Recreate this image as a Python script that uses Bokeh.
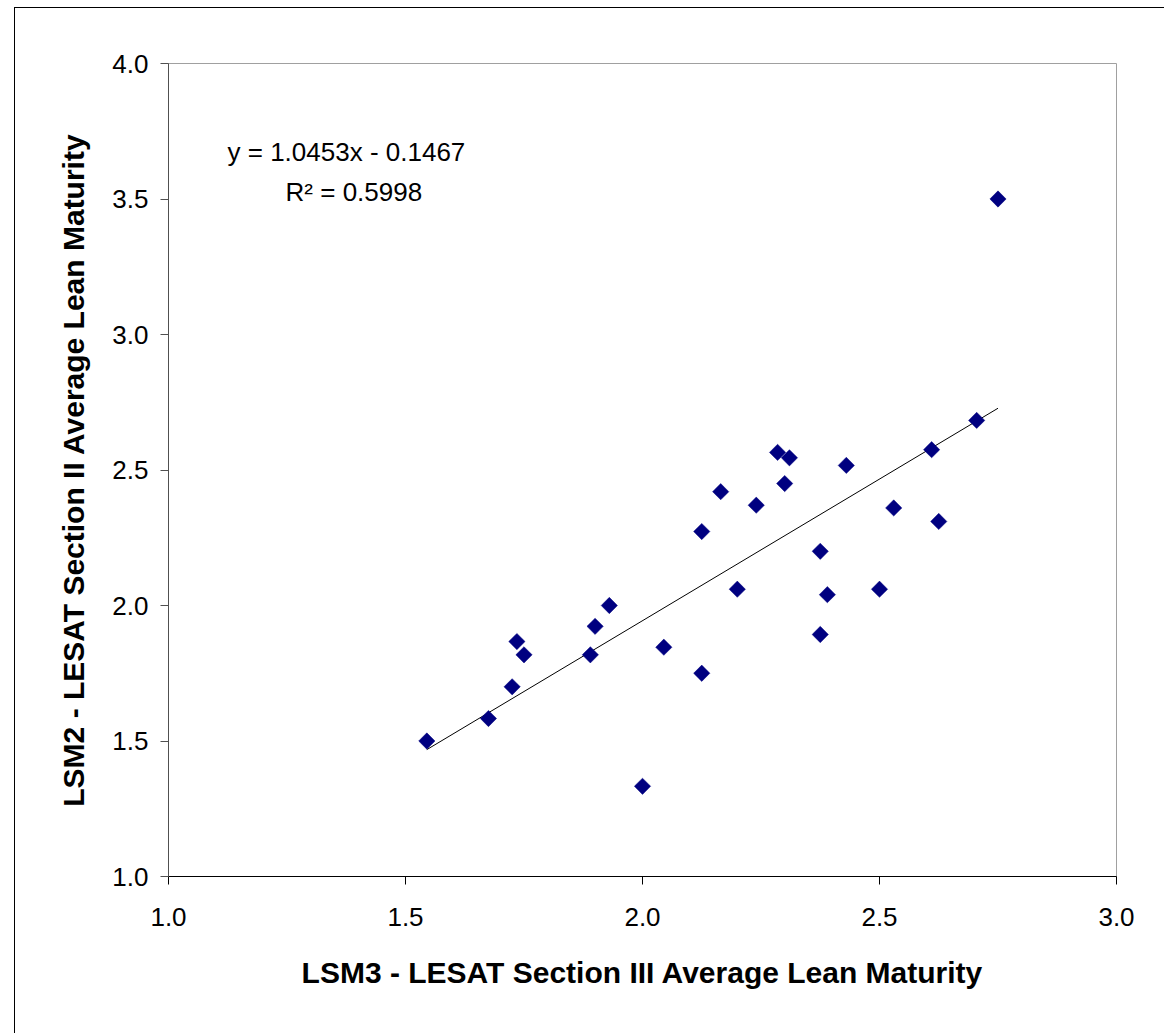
import numpy as np
from bokeh.plotting import figure
from bokeh.models import FixedTicker, PrintfTickFormatter, ColumnDataSource, Label, Range1d
from bokeh.embed import file_html
from bokeh.resources import INLINE

# LSM3 (x) vs LSM2 (y) average lean maturity values
lsm3 = [1.545, 1.675, 1.725, 1.735, 1.750, 1.890, 1.900, 1.930, 2.000, 2.045,
        2.125, 2.125, 2.165, 2.200, 2.240, 2.285, 2.300, 2.310, 2.375, 2.375,
        2.390, 2.430, 2.500, 2.530, 2.610, 2.625, 2.705, 2.750]
lsm2 = [1.500, 1.583, 1.700, 1.867, 1.818, 1.818, 1.923, 2.000, 1.333, 1.846,
        1.750, 2.273, 2.420, 2.060, 2.370, 2.565, 2.450, 2.545, 2.200, 1.893,
        2.040, 2.517, 2.060, 2.360, 2.575, 2.310, 2.683, 3.500]

slope = 1.0453
intercept = -0.1467
r_squared = 0.5998

x_ticks = [1.0, 1.5, 2.0, 2.5, 3.0]
y_ticks = [1.0, 1.5, 2.0, 2.5, 3.0, 3.5, 4.0]

FONT = "Liberation Sans"

p = figure(width=1150, height=1026, output_backend="svg", toolbar_location=None,
           x_range=Range1d(1.0, 3.0), y_range=Range1d(1.0, 4.0),
           min_border_left=153, min_border_top=55, min_border_right=49, min_border_bottom=158,
           margin=(7, 0, 0, 14),
           styles={"border-left": "1px solid black", "border-top": "1px solid black"})

p.background_fill_color = "white"
p.border_fill_color = "white"
p.outline_line_color = "#a0a0a0"
p.outline_line_width = 1
p.xgrid.visible = False
p.ygrid.visible = False

for ax, ticks in ((p.xaxis, x_ticks), (p.yaxis, y_ticks)):
    ax.ticker = FixedTicker(ticks=ticks)
    ax.formatter = PrintfTickFormatter(format="%.1f")
    ax.minor_tick_line_color = None
    ax.major_tick_in = 0
    ax.major_tick_out = 8
    ax.major_label_text_font = FONT
    ax.major_label_text_font_size = "26px"
    ax.major_label_text_color = "black"
    ax.axis_label_text_font = FONT
    ax.axis_label_text_font_size = "30px"
    ax.axis_label_text_font_style = "bold"
    ax.axis_label_text_color = "black"

p.xaxis.axis_line_color = "black"
p.xaxis.major_tick_line_color = "black"
p.yaxis.axis_line_color = "#505050"
p.yaxis.major_tick_line_color = "#505050"
p.xaxis.major_label_standoff = 23
p.yaxis.major_label_standoff = 12
p.xaxis.axis_label = "LSM3 - LESAT Section III Average Lean Maturity"
p.yaxis.axis_label = "LSM2 - LESAT Section II Average Lean Maturity"
p.xaxis.axis_label_standoff = 27
p.yaxis.axis_label_standoff = 19

# trend line
xmin, xmax = min(lsm3), max(lsm3)
p.line([xmin, xmax], [slope * xmin + intercept, slope * xmax + intercept],
       line_color="black", line_width=1)

src = ColumnDataSource(dict(x=lsm3, y=lsm2))
p.scatter("x", "y", source=src, marker="square", angle=np.pi / 4, size=11.5,
          fill_color="#000080", line_color="#000080", line_width=0.5)

eq = f"y = {slope:.4f}x - {abs(intercept):.4f}"
p.add_layout(Label(x=1.1245, y=3.672, text=eq, text_font=FONT, text_font_size="26px",
                   text_color="black", text_baseline="alphabetic", text_align="left"))
p.add_layout(Label(x=1.247, y=3.527, text=f"R\u00b2 = {r_squared:.4f}", text_font=FONT,
                   text_font_size="26px", text_color="black", text_baseline="alphabetic",
                   text_align="left"))

open("out.html", "w").write(file_html(p, INLINE))
